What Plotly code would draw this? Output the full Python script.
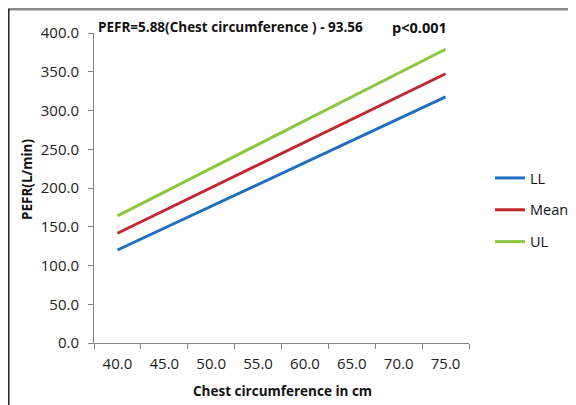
import plotly.graph_objects as go

categories = ["40.0", "45.0", "50.0", "55.0", "60.0", "65.0", "70.0", "75.0"]
ll = [120.0, 148.2, 176.4, 204.6, 232.8, 261.0, 289.2, 317.5]
mean = [141.6, 171.0, 200.4, 229.8, 259.2, 288.6, 318.0, 347.4]
ul = [164.0, 194.7, 225.4, 256.1, 286.8, 317.5, 348.2, 379.0]
series_names = ["LL", "Mean", "UL"]
colors = ["#1F6FC0", "#C1272D", "#8CC63E"]

OFF = 8  # page body margin
W, H = 576 - OFF, 405 - OFF
# target pixel positions in the page
L, R, T, B = 94, 469, 33, 343
ml, mr, mt, mb = L - OFF, W - (R - OFF), T - OFF, H - (B - OFF)
pw, ph = R - L, B - T

def px(x):
    return (x - L) / pw

def py(y):
    return (B - y) / ph

font = "Open Sans"
fig = go.Figure()
for name, vals, c in zip(series_names, [ll, mean, ul], colors):
    fig.add_trace(go.Scatter(x=categories, y=vals, mode="lines", name=name,
                             legendgroup=name,
                             line=dict(color=c, width=3)))

fig.update_layout(
    width=W, height=H,
    margin=dict(l=ml, r=mr, t=mt, b=mb, pad=0, autoexpand=False),
    paper_bgcolor="white", plot_bgcolor="white",
    font=dict(family=font, size=14, color="#222222"),
    showlegend=True,
    legend=dict(x=px(490), y=py(162), xanchor="left", yanchor="top",
                font=dict(size=14.5, color="#111111"), tracegroupgap=10,
                bgcolor="rgba(0,0,0,0)"),
    xaxis=dict(type="category", tickson="boundaries", ticks="outside", ticklen=5,
               tickcolor="#868686", showline=True, linecolor="#868686", linewidth=1,
               showgrid=False, zeroline=False, ticklabelstandoff=7,
               tickfont=dict(size=15, color="#222222"),
               range=[-0.5, 7.5]),
    yaxis=dict(range=[0, 400], dtick=50, tickformat=".1f", ticks="outside", ticklen=5,
               tickcolor="#868686", showline=True, linecolor="#868686", linewidth=1,
               showgrid=False, zeroline=False, ticklabelstandoff=6,
               tickfont=dict(size=15, color="#222222")),
)

fig.add_annotation(xref="paper", yref="paper", x=px(96), y=py(27), xanchor="left", yanchor="middle",
                   text="<b>PEFR=5.88(Chest circumference ) - 93.56</b>", showarrow=False,
                   font=dict(size=13.5, color="#111111"))
fig.add_annotation(xref="paper", yref="paper", x=px(390), y=py(27), xanchor="left", yanchor="middle",
                   text="<b>p<0.001</b>", showarrow=False, font=dict(size=14.5, color="#111111"))
fig.add_annotation(xref="paper", yref="paper", x=px(282), y=py(391), xanchor="center", yanchor="middle",
                   text="<b>Chest circumference in cm</b>", showarrow=False,
                   font=dict(size=13.5, color="#111111"))
fig.add_annotation(xref="paper", yref="paper", x=px(27), y=py(180), xanchor="center", yanchor="middle",
                   text="<b>PEFR(L/min)</b>", showarrow=False, textangle=-90,
                   font=dict(size=13.5, color="#111111"))

fig.add_shape(type="line", xref="paper", yref="paper", x0=px(8), x1=px(576), y0=py(9.2), y1=py(9.2),
              line=dict(color="#8A8A8A", width=2.5))
fig.add_shape(type="line", xref="paper", yref="paper", x0=px(8.8), x1=px(8.8), y0=py(9), y1=py(405),
              line=dict(color="#222222", width=1.5))

fig.write_html("out.html")
